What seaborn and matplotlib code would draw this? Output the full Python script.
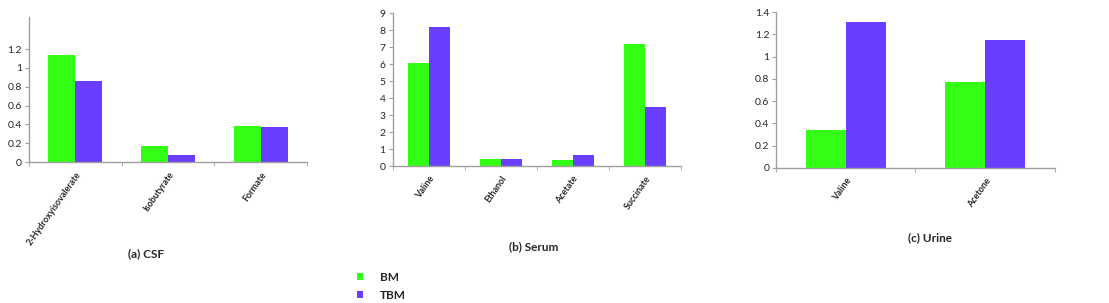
import pandas as pd
import seaborn as sns
import matplotlib.pyplot as plt
from matplotlib.ticker import FixedLocator, FormatStrFormatter

# valores
groups = ['BM', 'TBM']
csf_metabolites = ['2-Hydroxyisovalerate', 'Isobutyrate', 'Formate']
csf_bm = [1.14, 0.17, 0.38]
csf_tbm = [0.86, 0.08, 0.37]

serum_metabolites = ['Valine', 'Ethanol', 'Acetate', 'Succinate']
serum_bm = [6.08, 0.42, 0.35, 7.2]
serum_tbm = [8.2, 0.40, 0.65, 3.48]

urine_metabolites = ['Valine', 'Acetone']
urine_bm = [0.34, 0.77]
urine_tbm = [1.31, 1.15]

titles = ['(a) CSF', '(b) Serum', '(c) Urine']
cores = {'BM': '#33FF14', 'TBM': '#6A3DFF'}

sns.set_style('white')
plt.rcParams['font.family'] = ['Lato', 'DejaVu Sans']


def make_df(names, bm, tbm):
    return pd.DataFrame({
        'Metabolite': names * 2,
        'Value': bm + tbm,
        'Group': ['BM'] * len(names) + ['TBM'] * len(names),
    })


fig = plt.figure(figsize=(11.09, 3.03), dpi=100)
positions = [
    [0.026, 0.465, 0.251, 0.479],
    [0.354, 0.452, 0.260, 0.505],
    [0.700, 0.446, 0.251, 0.514],
]
datasets = [
    (csf_metabolites, csf_bm, csf_tbm, (0, 1.54), [0, 0.2, 0.4, 0.6, 0.8, 1, 1.2]),
    (serum_metabolites, serum_bm, serum_tbm, (0, 9), list(range(10))),
    (urine_metabolites, urine_bm, urine_tbm, (0, 1.4), [0, 0.2, 0.4, 0.6, 0.8, 1, 1.2, 1.4]),
]

axes = []
for pos, (names, bm, tbm, ylim, yticks) in zip(positions, datasets):
    ax = fig.add_axes(pos)
    df = make_df(names, bm, tbm)
    sns.barplot(data=df, x='Metabolite', y='Value', hue='Group', palette=cores,
                width=0.58, linewidth=0, saturation=1, ax=ax, legend=True)
    n = len(names)
    ax.set_xlim(-0.5, n - 0.5)
    ax.set_ylim(*ylim)
    ax.set_yticks(yticks)
    ax.yaxis.set_major_formatter(FormatStrFormatter('%g'))
    ax.set_xlabel('')
    ax.set_ylabel('')
    # ticks no estilo Excel: marcas nas divisões entre categorias
    ax.xaxis.set_minor_locator(FixedLocator([i - 0.5 for i in range(n + 1)]))
    ax.tick_params(axis='x', which='major', length=0, pad=6, labelsize=6.5)
    ax.tick_params(axis='x', which='minor', length=3, color='#A0A0A0', direction='out', bottom=True)
    ax.tick_params(axis='y', length=3, color='#A0A0A0', direction='out', left=True, labelsize=7.5, pad=2)
    plt.setp(ax.get_xticklabels(), rotation=55, ha='right', rotation_mode='anchor', fontweight='bold')
    for s in ['top', 'right']:
        ax.spines[s].set_visible(False)
    for s in ['left', 'bottom']:
        ax.spines[s].set_color('#A0A0A0')
        ax.spines[s].set_linewidth(1)
    handles, labels = ax.get_legend_handles_labels()
    ax.get_legend().remove()
    axes.append(ax)

title_pos = [(0.132, 0.162), (0.481, 0.185), (0.839, 0.215)]
for t, (x, y) in zip(titles, title_pos):
    fig.text(x, y, t, ha='center', va='center', fontsize=8.5, fontweight='bold')

fig.legend(handles, labels, loc='center left', bbox_to_anchor=(0.312, 0.055),
           frameon=False, handlelength=0.5, handleheight=0.5, handletextpad=1.5,
           labelspacing=0.6, prop={'size': 8.5, 'weight': 'bold'})

plt.savefig('out.png', dpi=100)
